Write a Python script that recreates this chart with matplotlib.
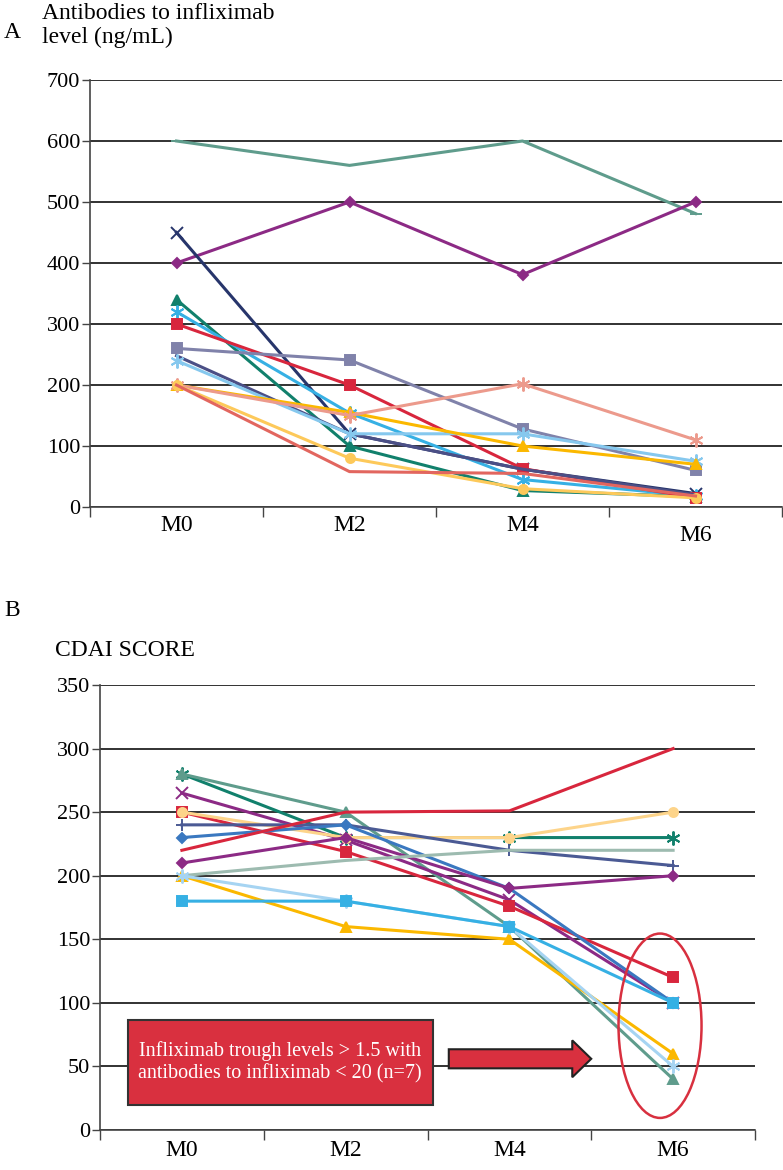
import matplotlib
matplotlib.use("Agg")
import matplotlib.pyplot as plt
from matplotlib.patches import Ellipse, FancyArrow, Rectangle
from matplotlib.transforms import blended_transform_factory

plt.rcParams.update({
    "font.family": ["Liberation Serif", "DejaVu Serif"],
    "font.size": 16,
})

months = ["M0", "M2", "M4", "M6"]

# Panel A: antibodies to infliximab (ng/mL), one list per patient
ati_values = [
    [600, 560, 600, 481],
    [400, 500, 381, 500],
    [450, 120, 62, 22],
    [340, 100, 27, 17],
    [320, 154, 45, 18],
    [300, 200, 63, 15],
    [260, 241, 128, 60],
    [248, 120, 62, 20],
    [240, 120, 120, 75],
    [200, 155, 100, 70],
    [200, 150, 202, 110],
    [200, 80, 30, 15],
    [200, 58, 55, 18],
]
ati_colors = ["#5f9c8c", "#8c2a85", "#27356b", "#11806c", "#36b0e4", "#d8263d",
              "#8082aa", "#4b4f86", "#86c8ee", "#fbb800", "#ec9a8c", "#fdc95a",
              "#e2665f"]
STAR = (6, 2, 0)
ati_markers = ["_", "D", "x", "^", STAR, "s", "s", "None", STAR, "^", STAR, "o", "None"]

# Panel B: CDAI score, one list per patient
cdai_values = [
    [280, 230, 230, 230],
    [280, 250, 160, 40],
    [265, 228, 181, 100],
    [250, 219, 176, 120],
    [250, 230, 230, 250],
    [240, 240, 220, 208],
    [230, 240, 190, 100],
    [220, 250, 251, 300],
    [210, 230, 190, 200],
    [200, 212, 220, 220],
    [200, 160, 150, 60],
    [200, 180, 160, 50],
    [180, 180, 160, 100],
]
cdai_colors = ["#11806c", "#5f9c8c", "#8c2a85", "#d8263d", "#fdd48a", "#4b5a94",
               "#3a78c0", "#d8263d", "#8c2a85", "#9dbbb0", "#fbb800", "#a6d4f2",
               "#36b0e4"]
cdai_markers = [STAR, "^", "x", "s", "o", "+", "D", "None", "D", "None", "^", STAR, "s"]

box_text = "Infliximab trough levels > 1.5 with\nantibodies to infliximab < 20 (n=7)"

fig = plt.figure(figsize=(7.83, 11.7), dpi=100)


def marker_size(mk):
    if mk == "D":
        return 5
    if mk in ("o", "s", "^"):
        return 6.5
    if mk == STAR:
        return 10
    return 8


def style_axes(ax, ymax, ystep, label_offsets):
    ax.set_xlim(-0.5, len(months) - 0.5)
    ax.set_ylim(0, ymax)
    ax.set_yticks(range(0, ymax + 1, ystep))
    ax.yaxis.grid(True, color="#222222", linewidth=1.3)
    ax.set_axisbelow(True)
    for s in ["top", "right"]:
        ax.spines[s].set_visible(False)
    for s in ["left", "bottom"]:
        ax.spines[s].set_color("#444444")
        ax.spines[s].set_linewidth(1.2)
    ax.tick_params(axis="y", length=6, width=1, color="#444444", pad=1, labelsize=16)
    ax.set_xticks([i - 0.5 for i in range(len(months) + 1)])
    ax.set_xticklabels([])
    ax.tick_params(axis="x", length=7, width=1, color="#444444")
    trans = blended_transform_factory(ax.transData, ax.transAxes)
    for i, m in enumerate(months):
        ax.text(i, label_offsets[i], m, transform=trans, ha="center", va="center",
                fontsize=17)


# ---- Panel A
axA = fig.add_axes([90 / 783, 1 - 507 / 1170, 692 / 783, 427 / 1170])
for vals, c, mk in zip(ati_values, ati_colors, ati_markers):
    axA.plot(range(len(months)), vals, color=c, marker=mk, linewidth=2.2,
             markersize=marker_size(mk), markeredgewidth=1.4, zorder=3)
style_axes(axA, 700, 100, [-0.043, -0.043, -0.043, -0.066])
fig.text(42 / 783, 1 - 3 / 1170, "Antibodies to infliximab\nlevel (ng/mL)",
         ha="left", va="top", fontsize=17, linespacing=1.2)
fig.text(4 / 783, 1 - 33 / 1170, "A", ha="left", va="center", fontsize=17)

# ---- Panel B
axB = fig.add_axes([100 / 783, 1 - 1130 / 1170, 655 / 783, 445 / 1170])
for vals, c, mk in zip(cdai_values, cdai_colors, cdai_markers):
    axB.plot(range(len(months)), vals, color=c, marker=mk, linewidth=2.2,
             markersize=marker_size(mk), markeredgewidth=1.4, zorder=3)
style_axes(axB, 350, 50, [-0.045] * 4)
fig.text(4 / 783, 1 - 610 / 1170, "B", ha="left", va="center", fontsize=17)
fig.text(55 / 783, 1 - 650 / 1170, "CDAI SCORE", ha="left", va="center", fontsize=17)

axB.add_patch(Rectangle((-0.329, 19.7), 1.863, 66.8, facecolor="#d9303f",
                        edgecolor="#333333", linewidth=1.5, zorder=5))
axB.text(0.60, 53, box_text, ha="center", va="center", color="white",
         fontsize=14.5, linespacing=1.2, zorder=6)
axB.add_patch(FancyArrow(1.63, 56, 0.87, 0, width=15, head_width=29,
                         head_length=0.116, length_includes_head=True,
                         facecolor="#d9303f", edgecolor="#222222",
                         linewidth=1.5, zorder=5))
axB.add_patch(Ellipse((2.92, 82), 0.507, 145, fill=False, edgecolor="#d8303f",
                      linewidth=1.8, zorder=6, clip_on=False))

fig.savefig("out.png", dpi=100)
